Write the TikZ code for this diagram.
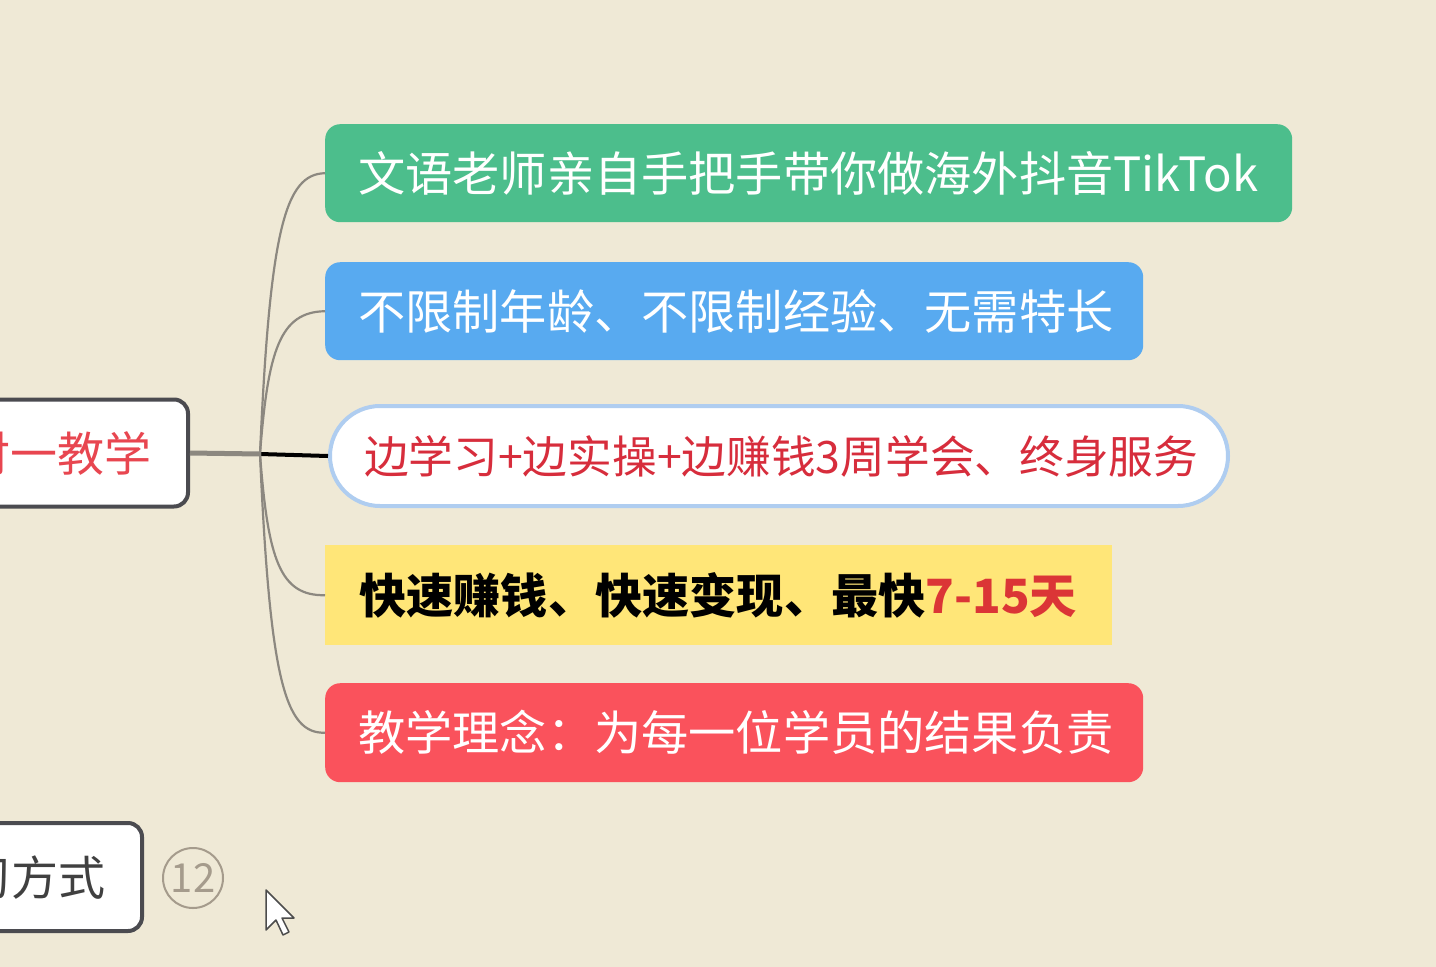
\documentclass[tikz,border=0pt]{standalone}
\usepackage{fontspec}
\setmainfont{Noto Sans CJK SC}
\usetikzlibrary{shapes.geometric}
\definecolor{bgc}{RGB}{239,233,214}
\definecolor{gbox}{RGB}{76,190,140}
\definecolor{bbox}{RGB}{88,170,240}
\definecolor{wborder}{RGB}{175,205,240}
\definecolor{ybox}{RGB}{255,230,120}
\definecolor{rbox}{RGB}{250,82,92}
\definecolor{rtext}{RGB}{215,45,60}
\definecolor{ltext}{RGB}{232,70,80}
\definecolor{dborder}{RGB}{75,75,80}
\definecolor{conn}{RGB}{140,136,128}
\definecolor{circ}{RGB}{165,155,140}
\tikzset{
  topic/.style={anchor=north west, inner xsep=33pt, inner ysep=0pt, align=left,
    font=\fontsize{47.2}{50}\selectfont, text=white},
  parent/.style={draw=dborder, line width=4pt, fill=white, rounded corners=14pt,
    inner ysep=0pt, font=\fontsize{47}{50}\selectfont},
  branch/.style={conn, line width=2.2pt},
}
\begin{document}
\begin{tikzpicture}[x=1pt,y=-1pt]
\useasboundingbox (0,0) rectangle (1436,967);
\clip (0,0) rectangle (1436,967);
\fill[bgc] (0,0) rectangle (1436,967);

% left parent nodes
\node[parent, anchor=east, minimum height=107pt, text width=240pt, align=right, text=ltext, inner xsep=36pt] (p1) at (190,453) {一对一教学};
\node[parent, anchor=east, minimum height=108pt, text width=210pt, align=right, text=black!75, inner xsep=36pt] (p2) at (144,877) {学习方式};
\node[draw=circ, line width=2pt, circle, minimum size=60pt, inner sep=0pt, text=circ, font=\fontsize{40}{42}\selectfont] (c12) at (193,878) {12};

% topics
\node[topic, fill=gbox, rounded corners=15pt, minimum height=98pt, text width=901pt] (t1) at (325,124) {文语老师亲自手把手带你做海外抖音TikTok};
\node[topic, fill=bbox, rounded corners=15pt, minimum height=98pt, text width=752pt] (t2) at (325,262) {不限制年龄、不限制经验、无需特长};
\node[topic, fill=white, draw=wborder, line width=4pt, rounded corners=50pt, minimum height=100pt, text width=830pt, text=rtext, inner xsep=34pt, font=\fontsize{44.7}{48}\selectfont] (t3) at (328,404) {边学习+边实操+边赚钱3周学会、终身服务};
\node[anchor=north west, fill=ybox, minimum height=100pt, inner xsep=34pt, inner ysep=0pt, text=black, font=\fontsize{47.2}{50}\selectfont\bfseries] (t4) at (325,545) {\makebox[719pt][l]{快速赚钱、快速变现、最快\textcolor{rtext!90!orange}{7-15天}}};
\node[topic, fill=rbox, rounded corners=15pt, minimum height=99pt, text width=752pt] (t5) at (325,683) {教学理念：为每一位学员的结果负责};

% connectors
\coordinate (j) at (260,454);
\draw[conn, line width=5pt] (p1.east) -- (j);
\draw[black, line width=4pt] (j) -- (t3.west);
\draw[branch] (j) .. controls (270,230) and (285,174) .. (t1.west);
\draw[branch] (j) .. controls (268,350) and (280,312) .. (t2.west);
\draw[branch] (j) .. controls (268,560) and (280,596) .. (t4.west);
\draw[branch] (j) .. controls (270,680) and (285,734) .. (t5.west);

% mouse cursor
\draw[fill=white, draw=black!70, line width=1.5pt, line join=round]
  (266,890) -- (266,930) -- (276,920) -- (283,935) -- (289,932) -- (282,918) -- (294,918) -- cycle;
\end{tikzpicture}
\end{document}
